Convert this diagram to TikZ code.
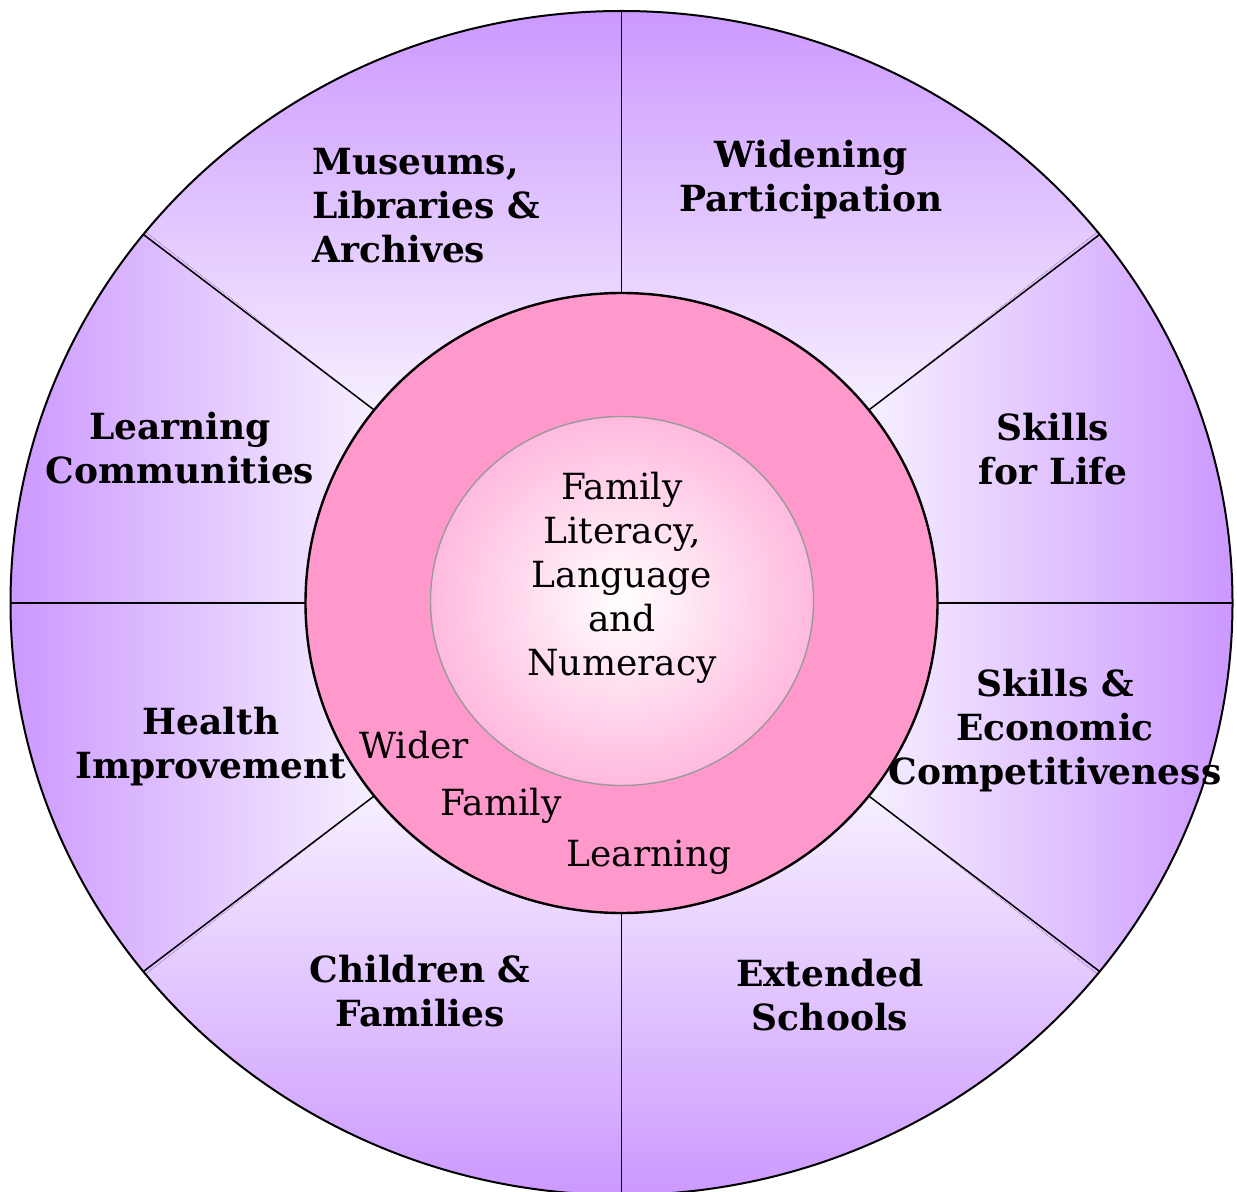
\documentclass[tikz,border=0pt]{standalone}
\usepackage{fontspec}
\setmainfont{DejaVu Serif}
\usepackage{tikz}
\definecolor{lilac}{RGB}{204,153,255}
\definecolor{palelilac}{RGB}{246,239,255}
\definecolor{rose}{RGB}{255,153,204}
\definecolor{blush}{RGB}{255,186,222}

\begin{document}
\begin{tikzpicture}[
		x=0.5pt, y=-0.5pt,
		every node/.style={inner sep=0pt},
		topic/.style={font=\fontsize{18}{22}\selectfont\bfseries, align=center},
		core/.style={font=\fontsize{18}{22}\selectfont, align=center},
		divider/.style={line width=0.75pt},
%		rim/.style={line width=1pt},
		]
		\useasboundingbox (0,0) rectangle (1237,1192);
		\coordinate (c) at (621.5,603);
		% where the slanted dividers meet the hub
		\coordinate (ul) at (374,410);
		\coordinate (ur) at (869,410);
		\coordinate (ll) at (374,796);
		\coordinate (lr) at (869,796);
		% sectors, each one lighter towards the hub
		\begin{scope}
			\clip (c) ellipse [x radius=305.5pt, y radius=296pt];
			\fill[lilac!60!palelilac] (c) ellipse [x radius=305.5pt, y radius=296pt];
			\fill[top color=lilac, bottom color=palelilac] (ul) -- (-138,11) -- (1381,11) -- (ur) -- cycle;
			\fill[bottom color=lilac, top color=palelilac] (ll) -- (-138,1195) -- (1381,1195) -- (lr) -- cycle;
			\fill[left color=lilac, right color=palelilac] (ul) -- (10.5,126.5) -- (10.5,1079.5) -- (ll) -- cycle;
			\fill[right color=lilac, left color=palelilac] (ur) -- (1232.5,126.5) -- (1232.5,1079.5) -- (lr) -- cycle;
		\end{scope}
		\draw[line width=1pt] (c) ellipse [x radius=305.5pt, y radius=296pt];
		\foreach \a in {0,38.5,90,141.5,180,218.5,270,321.5}
			\draw[divider, shift={(c)}] (\a:158pt and 155pt) -- (\a:305.5pt and 296pt);
		% hub
		\filldraw[fill=rose, line width=1.2pt] (c) ellipse [x radius=158pt, y radius=155pt];
		\draw[gray!80, line width=0.7pt, inner color=white, outer color=blush] (622,601) ellipse [x radius=95.75pt, y radius=92.25pt];

		\node[topic, align=left, anchor=west] (museums) at (312,206) {Museums,\\Libraries \&\\Archives};
		\node[topic] (widening) at (811,180) {Widening\\Participation};
		\node[topic] (skills) at (1053,449) {Skills\\for Life};
		\node[topic] (communities) at (180,448) {Learning\\Communities};
		\node[topic] (health) at (211,747) {Health\\Improvement};
		\node[topic] (economic) at (1055,731) {Skills \&\\Economic\\Competitiveness};
		\node[topic] (children) at (420,991) {Children \&\\Families};
		\node[topic] (schools) at (830,995) {Extended\\Schools};
		\node[core] (literacy) at (622,578) {Family\\Literacy,\\Language\\and\\Numeracy};
		\node[core] (wider) at (414,745) {Wider};
		\node[core] (family) at (501,806) {Family};
		\node[core] (learning) at (649,857) {Learning};
\end{tikzpicture}
\end{document}
